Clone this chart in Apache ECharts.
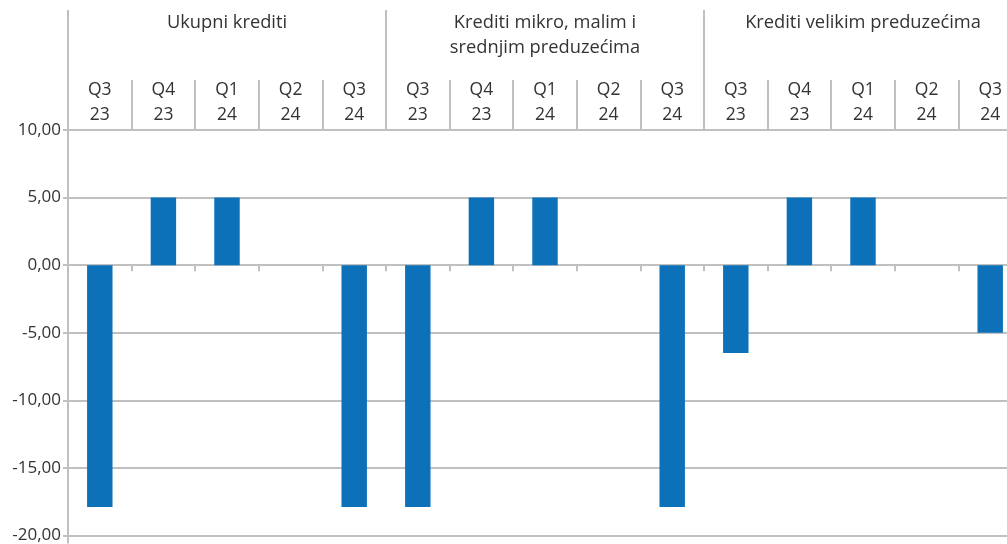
<!DOCTYPE html>
<html><head><meta charset="utf-8">
<script src="https://cdn.jsdelivr.net/npm/echarts@6/dist/echarts.min.js"></script>
<style>html,body{margin:0;padding:0;background:#fff;overflow:hidden;width:1007px;height:544px}#c{width:1022px;height:544px}</style>
</head><body><div id="c"></div>
<script>
const quarters = ['Q3\n23','Q4\n23','Q1\n24','Q2\n24','Q3\n24','Q3\n23','Q4\n23','Q1\n24','Q2\n24','Q3\n24','Q3\n23','Q4\n23','Q1\n24','Q2\n24','Q3\n24'];
const groups = ['Ukupni krediti','Krediti mikro, malim i\nsrednjim preduzećima','Krediti velikim preduzećima'];
const values = [-17.9, 5, 5, 0, -17.9, -17.9, 5, 5, 0, -17.9, -6.5, 5, 5, 0, -5];
const yTicks = {min: -20, max: 10, interval: 5};

const grey = '#c0c0c0';
const font = '"Open Sans", "Noto Sans", sans-serif';
const chart = echarts.init(document.getElementById('c'));
chart.setOption({
  animation: false,
  grid: {left: 68, right: 0, top: 130, bottom: 7, containLabel: false},
  xAxis: [
    {type: 'category', data: quarters, position: 'bottom',
     axisLine: {onZero: true, lineStyle: {color: grey, width: 2}},
     axisTick: {show: true, length: 6, lineStyle: {color: grey, width: 2}},
     axisLabel: {show: false}, splitLine: {show: false}},
    {type: 'category', data: quarters, position: 'top',
     axisLine: {show: false},
     axisTick: {show: true, length: 50, lineStyle: {color: grey, width: 2}},
     axisLabel: {show: true, margin: 2, fontFamily: font, fontSize: 17.5, color: '#333', lineHeight: 25, verticalAlign: 'bottom'},
     splitLine: {show: false}},
    {type: 'category', data: groups, position: 'top',
     axisLine: {show: false},
     axisTick: {show: true, length: 120, lineStyle: {color: grey, width: 2}},
     axisLabel: {show: true, margin: 120, fontFamily: font, fontSize: 18.3, color: '#333', lineHeight: 25, verticalAlign: 'top'},
     splitLine: {show: false}},
    {type: 'category', data: [''], position: 'bottom',
     axisLine: {show: false},
     axisTick: {show: true, length: 8, lineStyle: {color: grey, width: 2}},
     axisLabel: {show: false}}
  ],
  yAxis: {type: 'value', min: yTicks.min, max: yTicks.max, interval: yTicks.interval,
    axisLine: {show: true, lineStyle: {color: grey, width: 2}},
    axisTick: {show: true, length: 5, lineStyle: {color: grey, width: 2}},
    axisLabel: {margin: 7, fontFamily: font, fontSize: 17, color: '#333',
      formatter: v => v.toFixed(2).replace('.', ',')},
    splitLine: {show: true, lineStyle: {color: grey, width: 2}}},
  series: [{type: 'bar', xAxisIndex: 0, data: values, barWidth: '40%',
    itemStyle: {color: '#0c71b8'}}]
});
</script></body></html>
